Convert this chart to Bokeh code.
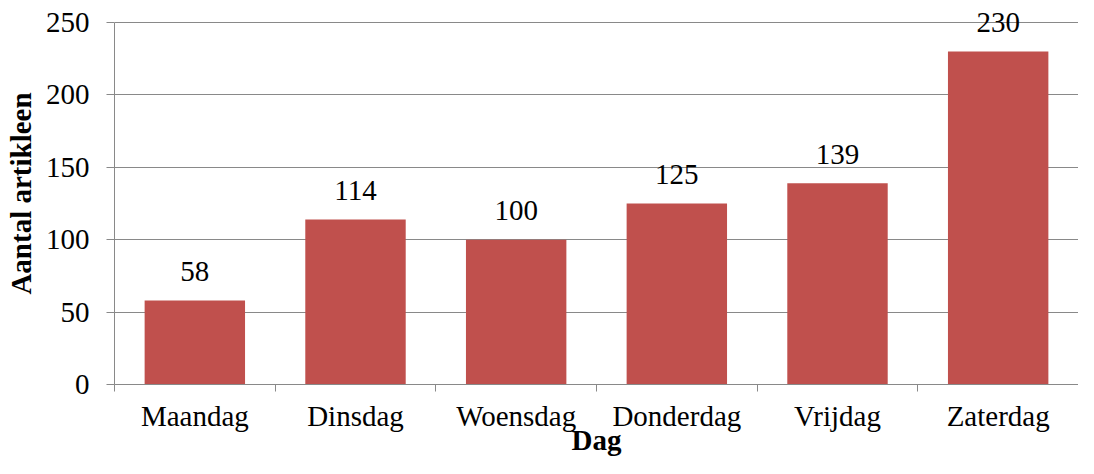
from bokeh.plotting import figure
from bokeh.models import FixedTicker, Range1d, ColumnDataSource
from bokeh.core.properties import value
from bokeh.embed import file_html
from bokeh.resources import INLINE

days = ["Maandag", "Dinsdag", "Woensdag", "Donderdag", "Vrijdag", "Zaterdag"]
counts = [58, 114, 100, 125, 139, 230]
y_ticks = [0, 50, 100, 150, 200, 250]
x_title = "Dag"
y_title = "Aantal artikleen"

FONT = "Liberation Serif"
FS = "29px"
GRAY = "#898989"
BAR = "#C0504D"

# layout (pixels)
W, H = 1078, 458
TOP, BOTTOM, LEFT = 2, 74, 114
AXIS_PX = 362            # pixel height of 0..250
frame_h = H - TOP - BOTTOM
y_end = y_ticks[-1] * frame_h / AXIS_PX   # headroom so top labels are not clipped

xs = [i + 0.5 for i in range(len(days))]
src = ColumnDataSource(dict(x=xs, top=counts, label=[str(c) for c in counts]))

p = figure(width=W, height=H, output_backend="svg", toolbar_location=None,
           x_range=Range1d(0, len(days)), y_range=Range1d(0, y_end),
           min_border_left=LEFT, min_border_top=TOP, min_border_bottom=BOTTOM,
           min_border_right=0)
p.outline_line_color = None
p.background_fill_color = "white"
p.border_fill_color = "white"

p.vbar(x="x", top="top", width=0.625, bottom=0, source=src,
       fill_color=BAR, line_color=None)
p.text(x="x", y="top", text="label", source=src,
       text_font=value(FONT), text_font_size=FS, text_align="center",
       text_baseline="alphabetic", y_offset=-29, text_color="black")

# x axis
p.xaxis.ticker = FixedTicker(ticks=xs, minor_ticks=list(range(len(days) + 1)))
p.xaxis.major_label_overrides = {x: d for x, d in zip(xs, days)}
p.xaxis.major_tick_line_color = None
p.xaxis.major_tick_out = 0
p.xaxis.major_tick_in = 0
p.xaxis.minor_tick_line_color = GRAY
p.xaxis.minor_tick_out = 7
p.xaxis.minor_tick_in = 0
p.xaxis.major_label_standoff = 8
p.xaxis.axis_label = x_title
p.xaxis.axis_label_standoff = -11

# y axis
p.yaxis.ticker = FixedTicker(ticks=y_ticks)
p.yaxis.bounds = (y_ticks[0], y_ticks[-1])
p.yaxis.minor_tick_line_color = None
p.yaxis.major_tick_out = 8
p.yaxis.major_tick_in = 0
p.yaxis.major_tick_line_color = GRAY
p.yaxis.major_label_standoff = 17
p.yaxis.axis_label = y_title
p.yaxis.axis_label_standoff = 6

for ax in (p.xaxis, p.yaxis):
    ax.axis_line_color = GRAY
    ax.major_label_text_font = FONT
    ax.major_label_text_font_size = FS
    ax.major_label_text_color = "black"
    ax.axis_label_text_font = FONT
    ax.axis_label_text_font_size = FS
    ax.axis_label_text_font_style = "bold"
    ax.axis_label_text_color = "black"

p.xgrid.visible = False
p.ygrid.ticker = FixedTicker(ticks=y_ticks)
p.ygrid.grid_line_color = GRAY

open("out.html", "w").write(file_html(p, INLINE))
